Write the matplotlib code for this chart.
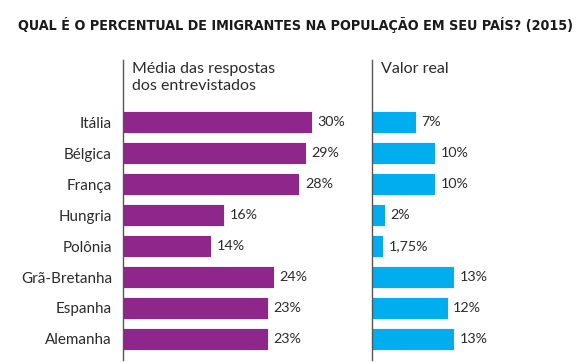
import matplotlib.pyplot as plt

# Data
paises = ['Itália', 'Bélgica', 'França', 'Hungria', 'Polônia',
          'Grã-Bretanha', 'Espanha', 'Alemanha']
media_respostas = [30, 29, 28, 16, 14, 24, 23, 23]
valor_real = [7, 10, 10, 2, 1.75, 13, 12, 13]
rotulos_media = ['30%', '29%', '28%', '16%', '14%', '24%', '23%', '23%']
rotulos_real = ['7%', '10%', '10%', '2%', '1,75%', '13%', '12%', '13%']

roxo = '#8E268B'
azul = '#00AEEF'
texto = '#2b2b2b'
fonte = ['Lato', 'DejaVu Sans']

W, H = 580, 362
fig = plt.figure(figsize=(W / 100, H / 100), dpi=100)

fig.text(18 / W, 1 - 25 / H, 'QUAL É O PERCENTUAL DE IMIGRANTES NA POPULAÇÃO EM SEU PAÍS? (2015)',
         family='DejaVu Sans', fontstretch='condensed', fontweight='bold',
         fontsize=10.3, color='#1a1a1a', va='center', ha='left')

top, bottom = 60, 360
ax_bottom = 1 - bottom / H
ax_height = (bottom - top) / H


def painel(x0, xmax, valores, rotulos, cor, titulo, nomes):
    # 6.3 px per percentage point in both panels
    ax = fig.add_axes([x0 / W, ax_bottom, xmax * 6.3 / W, ax_height])
    y = list(range(len(valores)))
    ax.barh(y, valores, height=0.7, color=cor, edgecolor='white', linewidth=0.6)
    ax.set_xlim(0, xmax)
    ax.set_ylim(7.68, -2.01)
    for yi, v, r in zip(y, valores, rotulos):
        ax.annotate(r, (v, yi), xytext=(4, 0), textcoords='offset points',
                    va='center', ha='left', fontsize=10.3, color=texto, family=fonte)
    fig.text((x0 + 9) / W, 1 - 62 / H, titulo, va='top', ha='left',
             fontsize=11.5, color=texto, family=fonte, linespacing=1.3)
    for s in ['top', 'right', 'bottom']:
        ax.spines[s].set_visible(False)
    ax.spines['left'].set_color('#555555')
    ax.spines['left'].set_linewidth(1.0)
    ax.set_xticks([])
    if nomes:
        ax.set_yticks(y)
        ax.set_yticklabels(paises, fontsize=10.9, color=texto, family=fonte)
        ax.tick_params(axis='y', length=0, pad=8)
    else:
        ax.set_yticks([])
    return ax


painel(123, 36, media_respostas, rotulos_media, roxo,
       'Média das respostas\ndos entrevistados', True)
painel(372, 30, valor_real, rotulos_real, azul, 'Valor real', False)

fig.savefig('out.png', dpi=100)
